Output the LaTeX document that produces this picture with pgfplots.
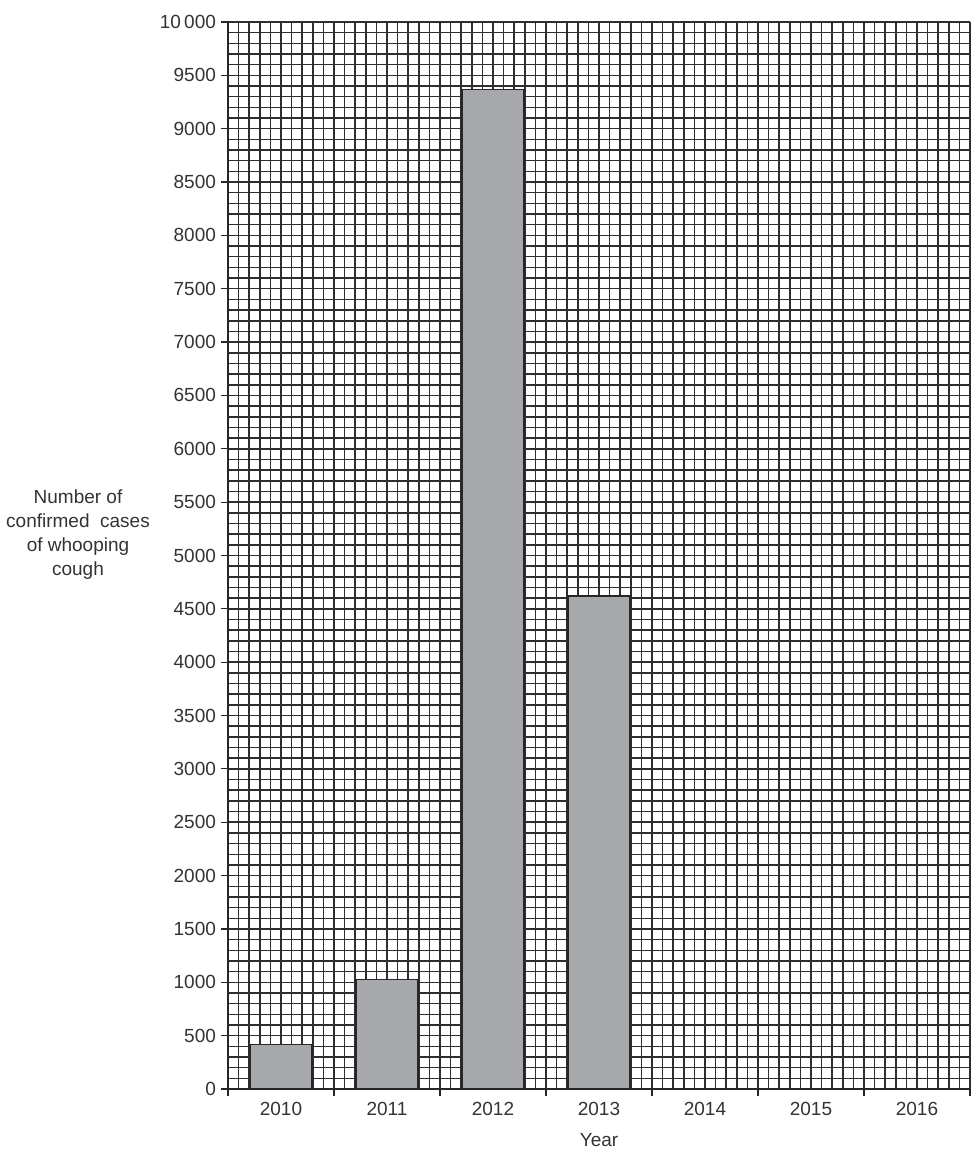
\documentclass[border=0pt]{standalone}
\usepackage{pgfplots}
\pgfplotsset{compat=1.18}
\usepackage{fontspec}
\setmainfont{Liberation Sans}
\definecolor{barfill}{HTML}{A7A8AC}
\definecolor{gridc}{HTML}{2E2E2E}
\definecolor{txt}{HTML}{333333}
\begin{document}
\begin{tikzpicture}
\path[use as bounding box] (-114pt,-31pt) rectangle (371pt,544.5pt);
\begin{axis}[
    scale only axis,
    width=371pt, height=533.5pt,
    xmin=0, xmax=7, ymin=0, ymax=10000,
    axis lines=left,
    axis line style={-, line width=1pt, black!85},
    font=\fontsize{9.5}{12}\selectfont,
    xtick={0,...,7},
    xticklabels={},
    minor x tick num=9,
    extra x ticks={0.5,1.5,2.5,3.5,4.5,5.5,6.5},
    extra x tick labels={2010,2011,2012,2013,2014,2015,2016},
    extra x tick style={major tick length=0pt, grid=none,
        xticklabel style={yshift=-3pt}},
    ytick={0,500,...,10000},
    yticklabels={0,500,1000,1500,2000,2500,3000,3500,4000,4500,5000,5500,6000,6500,7000,7500,8000,8500,9000,9500,10\,000},
    minor y tick num=4,
    tick align=outside,
    major tick length=3.5pt,
    minor tick length=0pt,
    tick style={black!85, line width=0.6pt},
    grid=both,
    major grid style={gridc, line width=0.75pt},
    minor grid style={gridc, line width=0.75pt},
    ticklabel style={text=txt},
    yticklabel style={xshift=1pt},
    xlabel={Year},
    xlabel style={at={(rel axis cs:0.5,0)}, anchor=center, yshift=-25.5pt, text=txt},
    ylabel={Number of\\confirmed\ \ cases\\of whooping\\cough},
    ylabel style={rotate=-90, align=center, at={(rel axis cs:0,0.52)}, anchor=center, xshift=-75pt, text=txt},
]
\addplot[ybar, bar width=0.585, bar shift=0pt, fill=barfill, draw=black!85, line width=0.6pt]
coordinates {(0.5,420) (1.5,1030) (2.5,9370) (3.5,4620)};
\end{axis}
\end{tikzpicture}
\end{document}
